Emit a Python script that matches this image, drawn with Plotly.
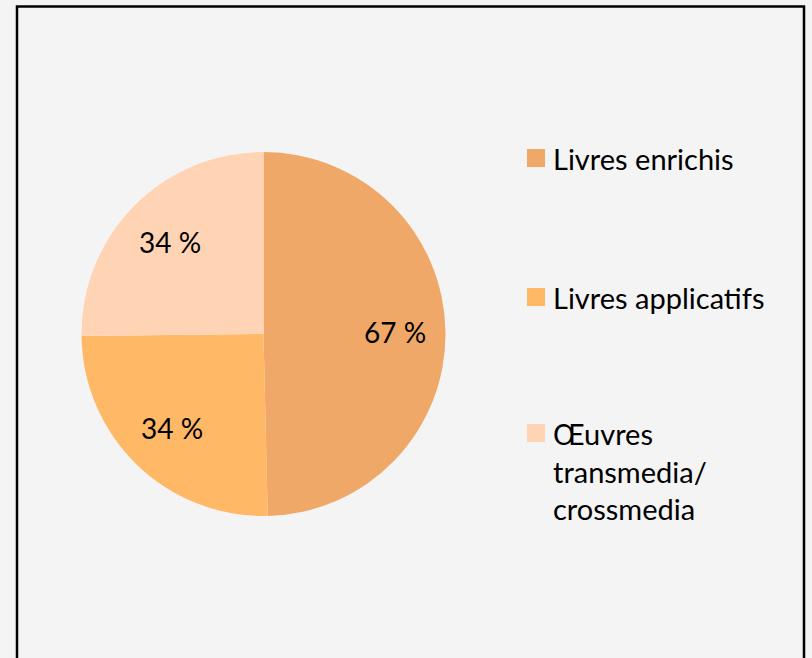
import math
import plotly.graph_objects as go

labels = ["Livres enrichis", "Livres applicatifs", "Œuvres transmedia/crossmedia"]
legend_text = ["Livres enrichis", "Livres applicatifs", "Œuvres<br>transmedia/<br>crossmedia"]
values = [67, 34, 34]
pct_text = ["67 %", "34 %", "34 %"]
colors = ["#F0A869", "#FFB966", "#FFD4B5"]

W, H = 812, 658
font = "Lato, 'Open Sans', sans-serif"
cx, cy, r = 263.5, 334, 182  # pie centre / radius in pixels

fig = go.Figure(go.Pie(
    labels=labels,
    values=values,
    textinfo="none",
    marker=dict(colors=colors, line=dict(width=0)),
    sort=False,
    direction="clockwise",
    rotation=0,
    showlegend=False,
    domain=dict(x=[(cx - r) / W, (cx + r) / W], y=[(H - cy - r) / H, (H - cy + r) / H]),
))

# percentage labels, placed like the office chart (further out than plotly's own)
total = sum(values)
start = 0
for v, t in zip(values, pct_text):
    mid = (start + v / 2) / total * 2 * math.pi
    start += v
    rr = 0.72 * r
    lx = cx + rr * math.sin(mid)
    ly = cy - rr * math.cos(mid)
    fig.add_annotation(x=lx / W, y=1 - ly / H, xref="paper", yref="paper",
                       text=t, showarrow=False, xanchor="center", yanchor="middle",
                       font=dict(size=28, color="black", family=font))

# frame around the chart
fig.add_shape(type="rect", xref="paper", yref="paper",
              x0=17 / W, x1=804 / W, y0=-0.05, y1=1 - 6.5 / H,
              line=dict(color="black", width=2.5))

# legend drawn by hand to keep the wide spacing of the original
legend_y = [158, 297, 433]
for txt, col, ly in zip(legend_text, colors, legend_y):
    fig.add_shape(type="rect", xref="paper", yref="paper",
                  x0=527 / W, x1=545 / W, y0=1 - (ly + 9) / H, y1=1 - (ly - 9) / H,
                  line=dict(width=0), fillcolor=col)
    fig.add_annotation(x=551 / W, y=1 - (ly - 19) / H, xref="paper", yref="paper",
                       text=txt, showarrow=False, xanchor="left", yanchor="top",
                       align="left", font=dict(size=29, color="black", family=font))

fig.update_layout(
    width=W, height=H,
    margin=dict(l=0, r=0, t=0, b=0),
    paper_bgcolor="#F4F4F4",
    plot_bgcolor="#F4F4F4",
    font=dict(family=font),
)

fig.write_html("out.html", config={"displayModeBar": False},
               post_script="document.body.style.margin='0';")
